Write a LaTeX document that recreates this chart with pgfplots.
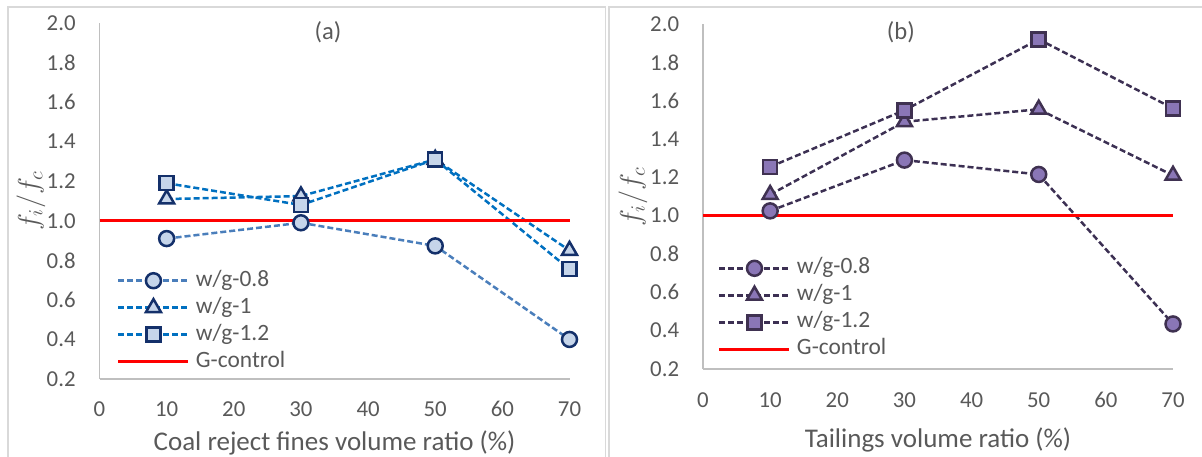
\documentclass[border=0pt]{standalone}
\usepackage{fontspec}
\setmainfont{Carlito}
\usepackage{pgfplots}
\pgfplotsset{compat=1.18}
\definecolor{tickgray}{HTML}{595959}
\definecolor{axisgray}{HTML}{BFBFBF}
\definecolor{bordergray}{HTML}{D9D9D9}
\definecolor{lineAa}{HTML}{4A7EBB}
\definecolor{lineAb}{HTML}{0070C0}
\definecolor{mfillA}{HTML}{C6D5EA}
\definecolor{medgeA}{HTML}{14306A}
\definecolor{lineB}{HTML}{3C3053}
\definecolor{mfillB}{HTML}{8A76B6}
\definecolor{medgeB}{HTML}{3F3151}
\definecolor{ctrlred}{HTML}{FF0000}
\pgfplotsset{
 common/.style={
  scale only axis,
  xmin=0,xmax=70,ymin=0.2,ymax=2.0,
  xtick={0,10,20,30,40,50,60,70},
  ytick={0.2,0.4,0.6,0.8,1.0,1.2,1.4,1.6,1.8,2.0},
  axis lines*=left,
  axis line style={draw=axisgray, line width=0.75pt},
  major tick length=0pt,
  tick label style={font=\fontsize{11.4}{13}\selectfont, text=tickgray},
  /pgf/number format/assume math mode=true,
  yticklabel style={/pgf/number format/fixed,/pgf/number format/fixed zerofill,/pgf/number format/precision=1, anchor=east, inner sep=0pt, xshift=-11.75pt},
  xticklabel style={anchor=center, inner sep=0pt},
  xlabel style={font=\fontsize{13.5}{15}\selectfont, text=tickgray},
  ylabel={$f_i/f_c$},
  ylabel style={font=\fontsize{14}{16}\selectfont, text=tickgray, anchor=center},
  clip=false,
  legend cell align=left,
  legend image code/.code={\draw[mark repeat=2,mark phase=2] plot coordinates {(0pt,0pt)(17.5pt,0pt)(35pt,0pt)};},
  legend style={draw=none, fill=none, inner sep=0pt, outer sep=0pt, anchor=north west,
    font=\fontsize{11.7}{13}\selectfont, text=tickgray,
    nodes={inner sep=0pt, text height=7.5pt, text depth=2pt}, row sep=4pt,
    /tikz/every odd column/.append style={column sep=3pt}},
 },
 dashA/.style={line width=1.25pt, dash pattern=on 3pt off 1.5pt},
 mkA/.style={mark options={solid, fill=mfillA, draw=medgeA, line width=1.25pt}},
 mkB/.style={mark options={solid, fill=mfillB, draw=medgeB, line width=1.25pt}},
}
\begin{document}
\begin{tikzpicture}
\useasboundingbox (0,0) rectangle (601pt,228pt);
\clip (0,0) rectangle (601pt,228pt);
\draw[bordergray, line width=0.6pt] (4pt,-5pt) -- (4pt,224.5pt) -- (302.75pt,224.5pt) -- (302.75pt,-5pt);
\draw[bordergray, line width=0.6pt] (304.5pt,-5pt) -- (304.5pt,224.5pt) -- (610pt,224.5pt);
% Panel (a)
\begin{axis}[common, at={(49.75pt,38.5pt)}, anchor=south west, width=235pt, height=178pt,
  xticklabel style={yshift=-15pt},
  xlabel={Coal reject fines volume ratio (\%)},
  xlabel style={at={(axis description cs:0.5,0)}, anchor=center, yshift=-32pt},
  ylabel style={at={(axis description cs:-0.146,0.5)}},
  legend style={at={(axis cs:2.6,0.745)}}]
\addplot[lineAa, dashA, mkA, mark=*, mark size=3.75pt] coordinates {(10,0.91)(30,0.99)(50,0.873)(70,0.40)};
\addplot[lineAb, dashA, mkA, mark=triangle*, mark size=4.3pt] coordinates {(10,1.11)(30,1.125)(50,1.31)(70,0.85)};
\addplot[lineAb, dashA, mkA, mark=square*, mark size=3.5pt] coordinates {(10,1.19)(30,1.08)(50,1.31)(70,0.755)};
\addplot[ctrlred, line width=1.5pt] coordinates {(0,1)(70,1)};
\legend{w/g-0.8,w/g-1,w/g-1.2,G-control}
\node[font=\fontsize{12.3}{14}\selectfont, text=tickgray] at (rel axis cs:0.486,0.975) {(a)};
\end{axis}
% Panel (b)
\begin{axis}[common, at={(351.5pt,43.5pt)}, anchor=south west, width=235pt, height=172.5pt,
  xticklabel style={yshift=-15.5pt},
  xlabel={Tailings volume ratio (\%)},
  xlabel style={at={(axis description cs:0.5,0)}, anchor=center, yshift=-35.5pt},
  ylabel style={at={(axis description cs:-0.149,0.5)}},
  legend style={at={(axis cs:2.23,0.775)}}]
\addplot[lineB, dashA, mkB, mark=*, mark size=3.75pt] coordinates {(10,1.025)(30,1.29)(50,1.215)(70,0.435)};
\addplot[lineB, dashA, mkB, mark=triangle*, mark size=4.3pt] coordinates {(10,1.11)(30,1.49)(50,1.555)(70,1.21)};
\addplot[lineB, dashA, mkB, mark=square*, mark size=3.5pt] coordinates {(10,1.255)(30,1.55)(50,1.92)(70,1.56)};
\addplot[ctrlred, line width=1.5pt] coordinates {(0,1)(70,1)};
\legend{w/g-0.8,w/g-1,w/g-1.2,G-control}
\node[font=\fontsize{12.3}{14}\selectfont, text=tickgray] at (rel axis cs:0.421,0.977) {(b)};
\end{axis}
\end{tikzpicture}
\end{document}
